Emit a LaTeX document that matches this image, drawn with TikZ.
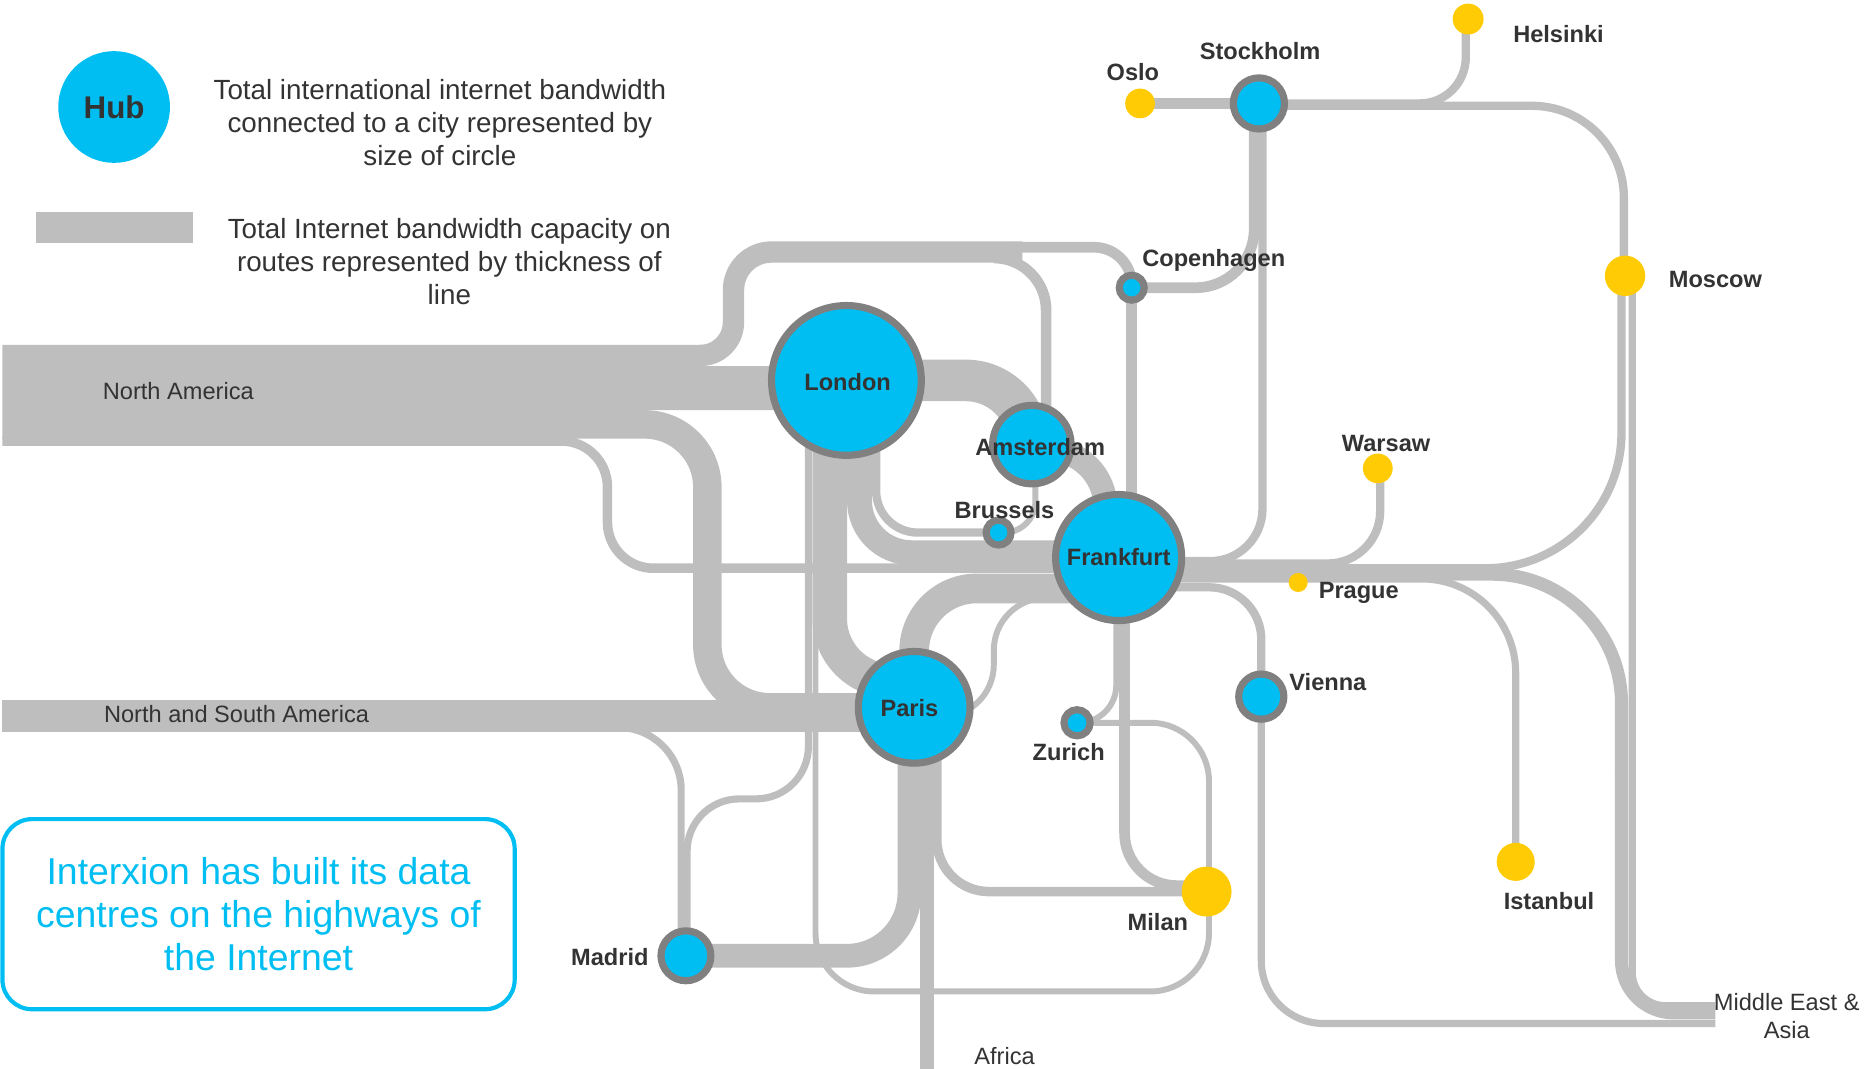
\documentclass[tikz,border=0pt]{standalone}
\usepackage{fontspec}
\setmainfont{Liberation Sans}
\usetikzlibrary{calc,positioning}
\definecolor{hubblue}{HTML}{00BEF2}
\definecolor{ringgray}{HTML}{808080}
\definecolor{routegray}{HTML}{BEBEBE}
\definecolor{cityyellow}{HTML}{FFCB05}
\definecolor{textgray}{HTML}{333333}

\begin{document}
\begin{tikzpicture}[
    x=0.02cm, y=-0.02cm,
    route/.style={draw=routegray, line width=#1*0.2mm},
    hub/.style={circle, draw=ringgray, fill=hubblue, line width=1.2mm, inner sep=0pt, minimum size=#1*0.2mm},
    citydot/.style={circle, fill=cityyellow, inner sep=0pt, minimum size=#1*0.2mm},
    city/.style={font=\fontsize{11.3}{13}\selectfont\bfseries, text=textgray, inner sep=0pt},
    region/.style={font=\fontsize{11.3}{13.5}\selectfont, text=textgray, inner sep=0pt, align=center},
    legendtext/.style={font=\fontsize{13.3}{15.9}\selectfont, text=textgray, align=center, inner sep=0pt}
]
\useasboundingbox (0,0) rectangle (1568,899);

% City positions
\coordinate (london) at (712,320);
\coordinate (amsterdam) at (868,374);
\coordinate (brussels) at (840,448);
\coordinate (frankfurt) at (941,469);
\coordinate (paris) at (769,595);
\coordinate (copenhagen) at (952,242);
\coordinate (stockholm) at (1059,87);
\coordinate (zurich) at (906,608);
\coordinate (vienna) at (1061,586);
\coordinate (madrid) at (577,804);
\coordinate (oslo) at (959,87);
\coordinate (helsinki) at (1235,16);
\coordinate (moscow) at (1367,232);
\coordinate (warsaw) at (1159,394);
\coordinate (prague) at (1092,490);
\coordinate (milan) at (1015,750);
\coordinate (istanbul) at (1275,725);

% Free ends of the routes
\coordinate (namerica) at (2,330);
\coordinate (nsamerica) at (2,602);
\coordinate (africa) at (780,899);
\coordinate (mideast) at (1443,855);
\coordinate (northsplit) at (850,212);

% Routes from the Americas
\draw[route=18] (namerica) ++(0,-31) -- (589,299) to[out=0, in=-90] (617,271) -- (617,244)
    to[out=90, in=180] (649,212) -- ($(northsplit)+(10,0)$);
\draw[route=9, rounded corners=18] (northsplit) ++(0,-4) -| (copenhagen);
\draw[route=9, rounded corners=25] (northsplit) ++(0,5) -| ($(amsterdam)+(12,0)$);
\draw[route=37] (namerica) ++(0,-3.5) -- ($(london)+(0,6.5)$);
\draw[route=24, rounded corners=30] (namerica) ++(0,27) -| (595,595) -- (paris);
\draw[route=8, rounded corners=22] (namerica) ++(0,41) -| (511,478) -- ($(frankfurt)+(0,9)$);
\draw[route=27] (nsamerica) -- ($(paris)+(0,7)$);
\draw[route=6, rounded corners=30] (nsamerica) ++(520,10) -| ($(madrid)+(-4,0)$);

% London
\draw[route=6, rounded corners=25] (london) ++(-32,0) |- (578,672) -- ($(madrid)+(1,0)$);
\draw[route=5, rounded corners=28] (london) ++(-26,0) |- (1017,834) |- (zurich);
\draw[route=29, rounded corners=30] (london) ++(-14,0) |- ($(paris)+(0,-22)$);
\draw[route=21, rounded corners=25] (london) ++(11,0) |- ($(frankfurt)+(0,-4)$);
\draw[route=7, rounded corners=20] (london) ++(25,0) |- (brussels);
\draw[route=35, rounded corners=30] (london) -| ($(amsterdam)+(-3,0)$);

% Amsterdam, Brussels, Copenhagen
\draw[route=5, rounded corners=15] (brussels) -| ($(amsterdam)+(3,0)$);
\draw[route=20, rounded corners=28] (amsterdam) ++(0,4) -| ($(frankfurt)+(-11,0)$);
\draw[route=9] (copenhagen) -- (copenhagen |- frankfurt);
\draw[route=9, rounded corners=28] (copenhagen) -| ($(stockholm)+(-4,0)$);

% Nordic routes
\draw[route=9] (oslo) -- (stockholm);
\draw[route=7, rounded corners=25] (stockholm) ++(3,0) |- ($(frankfurt)+(0,3)$);
\draw[route=7, rounded corners=44] (stockholm) ++(0,2) -| ($(moscow)+(-1,0)$);
\draw[route=7, rounded corners=22] (helsinki) ++(-2,0) |- (stockholm);
\draw[route=7, rounded corners=25] (warsaw) ++(2,0) |- ($(frankfurt)+(0,5)$);

% Frankfurt to the east
\draw[route=7, rounded corners=65] (frankfurt) ++(0,9) -| ($(moscow)+(-3,0)$);
\draw[route=11, rounded corners=62] (frankfurt) ++(0,14) -| (1364,652);
\draw[route=11, rounded corners=25] (1364,650) |- ($(mideast)+(0,-3)$);
\draw[route=6, rounded corners=16] (moscow) ++(6,0) |- ($(mideast)+(0,-9)$);
\draw[route=6, rounded corners=45] (frankfurt) ++(0,18) -| (istanbul);
\draw[route=7, rounded corners=25] (frankfurt) ++(0,25) -| (vienna);
\draw[route=6, rounded corners=30] (vienna) |- ($(mideast)+(0,6)$);

% Paris and the south
\draw[route=25, rounded corners=30] (paris) |- ($(frankfurt)+(0,26)$);
\draw[route=5, rounded corners=25] (frankfurt) ++(0,34) -| (836,603) -- ($(paris)+(0,8)$);
\draw[route=20, rounded corners=30] (paris) ++(-4,0) |- (madrid);
\draw[route=12] (paris) ++(11,0) -- (africa);
\draw[route=8, rounded corners=25] (paris) ++(19,0) |- (milan);
\draw[route=9, rounded corners=25] (frankfurt) ++(5,0) |- ($(milan)+(0,-5)$);
\draw[route=5, rounded corners=18] (frankfurt) ++(-2,0) |- (zurich);

% Hubs
\node[hub=126] (london-hub) at (london) {};
\node[hub=66] (amsterdam-hub) at (amsterdam) {};
\node[hub=21] (brussels-hub) at (brussels) {};
\node[hub=106] (frankfurt-hub) at (frankfurt) {};
\node[hub=94] (paris-hub) at (paris) {};
\node[hub=21] (copenhagen-hub) at (copenhagen) {};
\node[hub=43] (stockholm-hub) at (stockholm) {};
\node[hub=22] (zurich-hub) at (zurich) {};
\node[hub=38] (vienna-hub) at (vienna) {};
\node[hub=42] (madrid-hub) at (madrid) {};

% Other cities
\node[citydot=25] (oslo-dot) at (oslo) {};
\node[citydot=26] (helsinki-dot) at (helsinki) {};
\node[citydot=34] (moscow-dot) at (moscow) {};
\node[citydot=25] (warsaw-dot) at (warsaw) {};
\node[citydot=16] (prague-dot) at (prague) {};
\node[citydot=42] (milan-dot) at (milan) {};
\node[citydot=32] (istanbul-dot) at (istanbul) {};

% City names
\node[city] (london-lbl) at (713,321) {London};
\node[city] (amsterdam-lbl) at (875,376) {Amsterdam};
\node[city] (brussels-lbl) at (845,429) {Brussels};
\node[city] (frankfurt-lbl) at (941,469) {Frankfurt};
\node[city] (paris-lbl) at (765,596) {Paris};
\node[city] (copenhagen-lbl) at (1021,219) {Copenhagen};
\node[city] (stockholm-lbl) at (1060,43) {Stockholm};
\node[city] (zurich-lbl) at (899,633) {Zurich};
\node[city] (vienna-lbl) at (1117,574) {Vienna};
\node[city] (madrid-lbl) at (513,805) {Madrid};
\node[city] (oslo-lbl) at (953,61) {Oslo};
\node[city] (helsinki-lbl) at (1311,29) {Helsinki};
\node[city] (moscow-lbl) at (1443,235) {Moscow};
\node[city] (warsaw-lbl) at (1166,373) {Warsaw};
\node[city] (prague-lbl) at (1143,499) {Prague};
\node[city] (milan-lbl) at (974,776) {Milan};
\node[city] (istanbul-lbl) at (1303,758) {Istanbul};

% Regions
\node[region] (na-lbl) at (150,329) {North America};
\node[region] (nsa-lbl) at (199,601) {North and South America};
\node[region] (africa-lbl) at (845,888) {Africa};
\node[region] (me-lbl) at (1503,855) {Middle East \&\\Asia};

% Legend
\node[circle, fill=hubblue, inner sep=0pt, minimum size=94*0.2mm, font=\fontsize{15}{18}\selectfont\bfseries, text=textgray] (legend-hub) at (96,90) {Hub};
\node[legendtext] (legend-hub-txt) at (370,103) {Total international internet bandwidth\\connected to a city represented by\\size of circle};
\node[fill=routegray, inner sep=0pt, minimum width=132*0.2mm, minimum height=26*0.2mm] (legend-bar) at (96,191) {};
\node[legendtext] (legend-bar-txt) at (378,220) {Total Internet bandwidth capacity on\\routes represented by thickness of\\line};

% Message box
\node[draw=hubblue, line width=0.7mm, rounded corners=0.5cm, minimum width=431*0.2mm, minimum height=160*0.2mm,
      text=hubblue, align=center, font=\fontsize{17.9}{20.7}\selectfont] (claim) at (217.5,769)
      {Interxion has built its data\\centres on the highways of\\the Internet};

\end{tikzpicture}
\end{document}
